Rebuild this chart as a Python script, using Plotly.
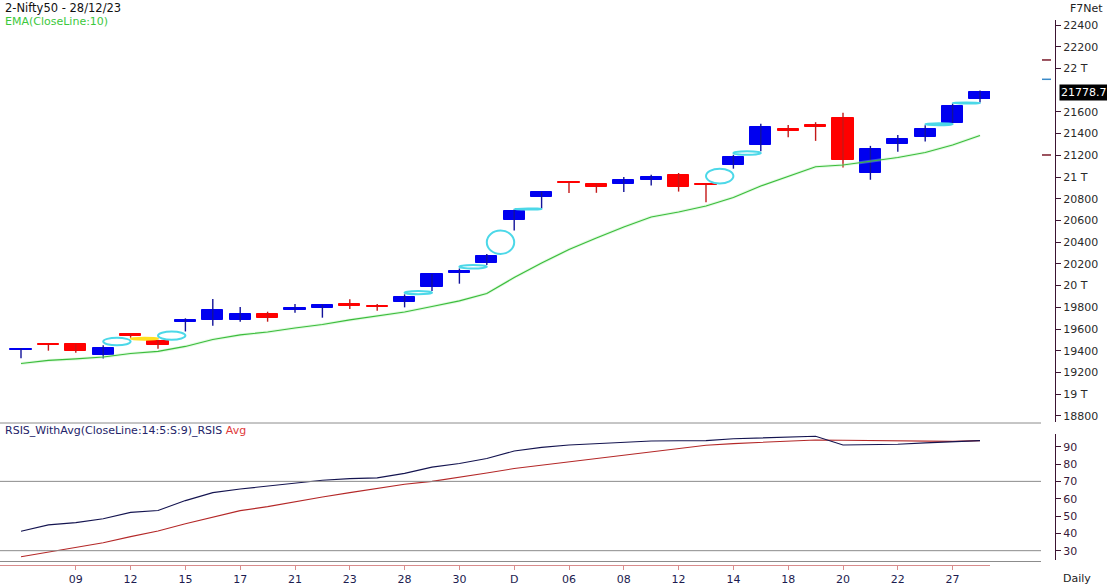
import plotly.graph_objects as go

# ---------------- data ----------------
dates = ["07 Nov", "08 Nov", "09 Nov", "10 Nov", "12 Nov", "13 Nov", "15 Nov", "16 Nov", "17 Nov",
         "20 Nov", "21 Nov", "22 Nov", "23 Nov", "24 Nov", "28 Nov", "29 Nov", "30 Nov", "01 Dec",
         "04 Dec", "05 Dec", "06 Dec", "07 Dec", "08 Dec", "11 Dec", "12 Dec", "13 Dec", "14 Dec",
         "15 Dec", "18 Dec", "19 Dec", "20 Dec", "21 Dec", "22 Dec", "26 Dec", "27 Dec", "28 Dec"]
open_ = [19410, 19462, 19460, 19358, 19555, 19493, 19662, 19688, 19686, 19739, 19778, 19797,
         19834, 19812, 19852, 19990, 20120, 20206, 20604, 20819, 20952, 20936, 20939, 20975,
         21019, 20935, 21114, 21298, 21442, 21478, 21543, 21040, 21307, 21371, 21500, 21720]
high = [19425, 19464, 19462, 19451, 19556, 19502, 19699, 19877, 19803, 19760, 19831, 19825,
        19875, 19832, 19920, 20108, 20158, 20291, 20700, 20864, 20956, 20941, 21000, 21022,
        21037, 20940, 21205, 21490, 21480, 21505, 21593, 21287, 21388, 21477, 21677, 21796]
low = [19331, 19401, 19382, 19329, 19520, 19420, 19578, 19631, 19668, 19668, 19751, 19705,
       19786, 19769, 19800, 19950, 20018, 20190, 20507, 20711, 20852, 20855, 20863, 20922,
       20866, 20768, 21077, 21238, 21366, 21333, 21087, 20975, 21233, 21327, 21495, 21686]
close = [19414, 19457, 19400, 19430, 19540, 19458, 19686, 19776, 19739, 19705, 19794, 19822,
         19815, 19805, 19895, 20105, 20135, 20273, 20687, 20858, 20944, 20911, 20970, 21000,
         20906, 20926, 21185, 21462, 21424, 21463, 21157, 21258, 21350, 21442, 21654, 21778.7]
ema10 = [19283, 19311, 19325, 19343, 19375, 19394, 19440, 19504, 19546, 19573, 19610, 19642,
         19684, 19718, 19757, 19808, 19859, 19928, 20075, 20208, 20333, 20439, 20540, 20632,
         20678, 20733, 20812, 20918, 21005, 21095, 21111, 21143, 21180, 21226, 21295, 21383]
rsi = [41.2, 44.9, 46.2, 48.4, 52.1, 53.2, 58.9, 63.5, 65.6, 67.3, 69.3, 70.6,
       71.6, 72.0, 74.6, 78.2, 80.3, 83.2, 87.5, 89.6, 91.0, 91.9, 92.8, 93.3,
       93.4, 93.5, 94.6, 95.1, 95.8, 96.0, 91.0, 91.0, 91.4, 92.2, 92.8, 93.5]
rsi_avg = [26.5, 29.3, 31.7, 34.6, 38.1, 41.4, 45.5, 49.2, 53.1, 55.4, 58.4, 61.0,
           63.5, 65.8, 68.3, 70.0, 72.3, 74.8, 77.4, 79.3, 81.2, 83.0, 85.1, 87.1,
           89.0, 90.8, 91.8, 92.6, 93.5, 93.9, 93.7, 93.6, 93.4, 93.2, 93.1, 93.5]
tick_labels = ["09", "12", "15", "17", "21", "23", "28", "30", "D", "06", "08", "12",
               "14", "18", "20", "22", "27"]
price_ticks = [18800, 19000, 19200, 19400, 19600, 19800, 20000, 20200, 20400, 20600,
               20800, 21000, 21200, 21400, 21600, 22000, 22200, 22400]
rsi_ticks = [30, 40, 50, 60, 70, 80, 90]
rsi_levels = [70, 30]
marker_levels = [22078, 21900, 21203]
marker_colors = ["#7a1a2a", "#3a8ac8", "#7a1a2a"]

# ---------------- geometry helpers ----------------
W, H = 1107, 586
PB = 565                      # pixel row of plot-area bottom
X0PIX, DX = 21.0, 27.4        # first candle centre, candle spacing (px)
PY0, PPX = 25.0, 0.1086       # pixel of 22400, px per point
RPY90, RPX = 446.7, 1.733     # pixel of RSI 90, px per RSI unit


def fy(p):
    return (PB - p) / PB


def fx(p):
    return p / W


def price_at(p):
    return 22400 - (p - PY0) / PPX


def rsi_at(p):
    return 90 - (p - RPY90) / RPX


n = len(close)
idx = list(range(n))
FONT = "DejaVu Sans"

fig = go.Figure()

# wicks
for up, col in ((True, "#12129a"), (False, "#c41818")):
    xs, ys = [], []
    for i in idx:
        if (close[i] >= open_[i]) == up:
            xs += [i, i, None]
            ys += [low[i], high[i], None]
    fig.add_trace(go.Scatter(x=xs, y=ys, mode="lines", line=dict(color=col, width=1.4),
                             hoverinfo="skip", showlegend=False))

# bodies
for up, col in ((True, "#0000f0"), (False, "#ff0000")):
    sel = [i for i in idx if (close[i] >= open_[i]) == up]
    fig.add_trace(go.Bar(x=sel,
                         base=[min(open_[i], close[i]) for i in sel],
                         y=[abs(close[i] - open_[i]) for i in sel],
                         width=0.77, marker=dict(color=col, line=dict(color=col, width=1)),
                         showlegend=False, hoverinfo="skip"))

# EMA with soft glow
fig.add_trace(go.Scatter(x=idx, y=ema10, mode="lines",
                         line=dict(color="rgba(170,240,170,0.35)", width=3),
                         hoverinfo="skip", showlegend=False))
fig.add_trace(go.Scatter(x=idx, y=ema10, mode="lines", line=dict(color="#3cbc3c", width=1.2),
                         showlegend=False))

# RSI
fig.add_trace(go.Scatter(x=idx, y=rsi_avg, mode="lines", yaxis="y2",
                         line=dict(color="#b42828", width=1.1), showlegend=False))
fig.add_trace(go.Scatter(x=idx, y=rsi, mode="lines", yaxis="y2",
                         line=dict(color="#141450", width=1.1), showlegend=False))

shapes = []
# gap markers
for i in range(1, n):
    if low[i] > high[i - 1]:
        shapes.append(dict(type="circle", xref="x", yref="y", x0=i - 1, x1=i,
                           y0=high[i - 1], y1=low[i],
                           line=dict(color="#4cd8e8", width=2)))
    elif high[i] < low[i - 1]:
        shapes.append(dict(type="circle", xref="x", yref="y", x0=i - 1, x1=i,
                           y0=high[i], y1=low[i - 1], fillcolor="#ffe020",
                           line=dict(color="#ffe020", width=2)))

# horizontal lines
for lv in rsi_levels:
    shapes.append(dict(type="line", xref="paper", yref="y2", x0=0, x1=fx(1041), y0=lv, y1=lv,
                       line=dict(color="#8c8c8c", width=1)))
for p in (423, 561.5):
    shapes.append(dict(type="line", xref="paper", yref="paper", x0=0, x1=fx(1041),
                       y0=fy(p), y1=fy(p), line=dict(color="#8c8c8c", width=1)))
# side markers
for lv, col in zip(marker_levels, marker_colors):
    shapes.append(dict(type="line", xref="paper", yref="y", x0=fx(1042), x1=fx(1051),
                       y0=lv, y1=lv, line=dict(color=col, width=1.5)))

price_text = [f"{v // 1000} T" if v % 1000 == 0 else str(v) for v in price_ticks]
axis_col = "#3c1432"

annotations = [
    dict(text="2-Nifty50 - 28/12/23", xref="paper", yref="paper", x=fx(3), y=fy(8),
         xanchor="left", yanchor="middle", showarrow=False, font=dict(size=11.5, color="#111111")),
    dict(text="EMA(CloseLine:10)", xref="paper", yref="paper", x=fx(3), y=fy(22),
         xanchor="left", yanchor="middle", showarrow=False, font=dict(size=11, color="#3cc83c")),
    dict(text="RSIS_WithAvg(CloseLine:14:5:S:9)_RSIS <span style='color:#e03a3a'>Avg</span>",
         xref="paper", yref="paper", x=fx(3), y=fy(430.5), xanchor="left", yanchor="middle",
         showarrow=False, font=dict(size=11, color="#24246a")),
    dict(text="F7Net", xref="paper", yref="paper", x=fx(1086), y=fy(8), xanchor="center",
         yanchor="middle", showarrow=False, font=dict(size=11, color="#222222")),
    dict(text="Daily", xref="paper", yref="paper", x=fx(1077), y=fy(578), xanchor="center",
         yanchor="middle", showarrow=False, font=dict(size=11, color="#222222")),
    dict(text=f"{close[-1]:.1f}", xref="paper", yref="y", x=fx(1059), y=close[-1],
         xanchor="left", yanchor="middle", showarrow=False, bgcolor="#000000", borderpad=1,
         font=dict(size=11, color="#ffffff")),
]

fig.update_layout(
    width=W, height=H, margin=dict(l=0, r=0, t=0, b=H - PB),
    paper_bgcolor="white", plot_bgcolor="white", template="none",
    font=dict(family=FONT, size=11, color="#222222"),
    bargap=0, barmode="overlay", showlegend=False,
    shapes=shapes, annotations=annotations,
    xaxis=dict(domain=[0, fx(990)], range=[-X0PIX / DX, (990 - X0PIX) / DX],
               anchor="free", position=0, showline=True, linecolor="#d88c8c", linewidth=1,
               ticks="outside", ticklen=4, tickcolor="#d88c8c",
               tickvals=list(range(2, n, 2))[:len(tick_labels)], ticktext=tick_labels,
               tickfont=dict(size=11, color="#1c1c50"), showgrid=False, zeroline=False),
    yaxis=dict(domain=[fy(422), fy(20)], range=[price_at(422), price_at(20)],
               anchor="free", position=fx(1055), side="right", showline=True,
               linecolor=axis_col, linewidth=1, ticks="outside", ticklen=5, tickcolor=axis_col,
               tickvals=price_ticks, ticktext=price_text, tickfont=dict(size=11, color="#2a2a2a"),
               showgrid=False, zeroline=False),
    yaxis2=dict(domain=[fy(560), fy(434)], range=[rsi_at(560), rsi_at(434)],
                anchor="free", position=fx(1055), side="right", showline=True,
                linecolor=axis_col, linewidth=1, ticks="outside", ticklen=5, tickcolor=axis_col,
                tickvals=rsi_ticks, tickfont=dict(size=11, color="#3a1a3a"),
                showgrid=False, zeroline=False),
)

fig.write_html("out.html")
